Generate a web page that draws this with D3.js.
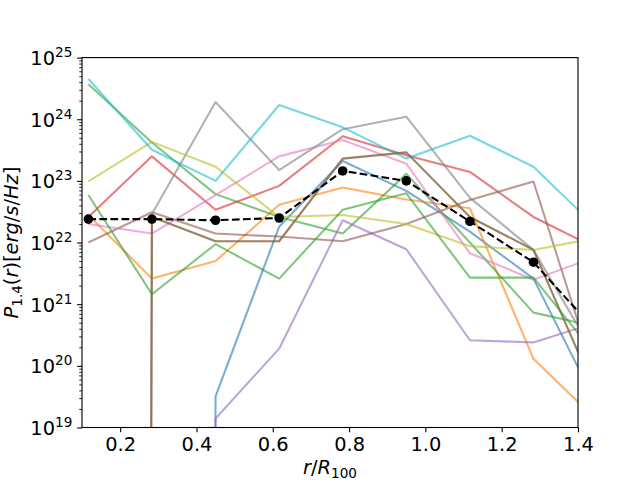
<!DOCTYPE html>
<html>
<head>
<meta charset="utf-8">
<script src="https://cdn.jsdelivr.net/npm/d3@7/dist/d3.min.js"></script>
<style>
  html, body { margin: 0; padding: 0; background: #fff; }
  text { font-family: "DejaVu Sans", sans-serif; }
</style>
</head>
<body>
<svg id="chart" width="640" height="480"></svg>
<script>
// ---- data ----
const radius = [0.1167, 0.2833, 0.45, 0.6167, 0.7833, 0.95, 1.1167, 1.2833, 1.45];
const xTicks = [0.2, 0.4, 0.6, 0.8, 1.0, 1.2, 1.4];
const yTicks = [1e19, 1e20, 1e21, 1e22, 1e23, 1e24, 1e25];

const blueSeries      = [0, 0, 3.2e19, 1.8e22, 2.1e23, 6.9e22, 1.5e22, 2.6e21, 2.3e19];
const orangeSeries    = [2.8e22, 2.6e21, 5.0e21, 4.1e22, 7.8e22, 5.0e22, 3.6e22, 1.3e20, 1.3e19];
const greenSeries     = [3.7e24, 4.2e23, 6.1e22, 2.6e22, 1.4e22, 1.3e23, 1.0e22, 7.3e20, 4.3e20];
const redSeries       = [2.6e22, 2.5e23, 3.4e22, 8.3e22, 5.3e23, 2.6e23, 1.4e23, 2.6e22, 8.0e21];
const purpleSeries    = [0, 0, 1.4e19, 1.9e20, 2.3e22, 7.8e21, 2.6e20, 2.4e20, 5.1e20];
const brownSeries     = [1.0e22, 3.1e22, 1.4e22, 1.25e22, 1.05e22, 2.0e22, 4.9e22, 9.8e22, 5.5e19];
const pinkSeries      = [2.0e22, 1.4e22, 5.9e22, 2.5e23, 4.6e23, 1.9e23, 6.7e21, 2.5e21, 6.0e21];
const graySeries      = [0, 2.9e22, 1.9e24, 1.5e23, 6.9e23, 1.1e24, 5.3e22, 7.6e21, 1.3e20];
const oliveSeries     = [9.8e22, 4.3e23, 1.7e23, 2.6e22, 2.8e22, 2.0e22, 8.7e21, 7.6e21, 1.2e22];
const cyanSeries      = [4.5e24, 3.2e23, 1.0e23, 1.7e24, 7.4e23, 2.3e23, 5.4e23, 1.7e23, 1.7e22];
const darkBrownSeries = [0, 2.6e22, 1.05e22, 1.05e22, 2.3e23, 2.9e23, 2.6e22, 7.6e21, 3.3e19];
const green2Series    = [5.9e22, 1.45e21, 9.4e21, 2.6e21, 3.4e22, 6.3e22, 2.7e21, 2.7e21, 1.4e20];
const meanSeries      = [2.4e22, 2.4e22, 2.3e22, 2.5e22, 1.45e23, 1.0e23, 2.2e22, 4.8e21, 3.5e20];

// ---- layout / styles ----
const PT = 100 / 72;
const L = 82, R = 578, T = 57.6, B = 427.5;
const series = [
  { v: blueSeries,      c: "#1f77b4", o: 0.6 },
  { v: orangeSeries,    c: "#ff7f0e", o: 0.6 },
  { v: greenSeries,     c: "#2ca02c", o: 0.6 },
  { v: redSeries,       c: "#d62728", o: 0.6 },
  { v: purpleSeries,    c: "#9467bd", o: 0.6 },
  { v: brownSeries,     c: "#8c564b", o: 0.6 },
  { v: pinkSeries,      c: "#e377c2", o: 0.6 },
  { v: graySeries,      c: "#7f7f7f", o: 0.6 },
  { v: oliveSeries,     c: "#bcbd22", o: 0.6 },
  { v: cyanSeries,      c: "#17becf", o: 0.6 },
  { v: darkBrownSeries, c: "#8a6a48", o: 0.85 },
  { v: green2Series,    c: "#2ca02c", o: 0.6 }
];

const svg = d3.select("#chart");
const x = d3.scaleLinear().domain([0.1, 1.4]).range([L, R]);
const y = d3.scaleLog().domain([1e19, 1e25]).range([B, T]);

svg.append("defs").append("clipPath").attr("id", "clip")
  .append("rect").attr("x", L).attr("y", T).attr("width", R - L).attr("height", B - T);

const line = d3.line()
  .x(d => x(d[0]))
  .y(d => d[1] > 0 ? y(d[1]) : y(1e-300));

const plot = svg.append("g").attr("clip-path", "url(#clip)");

series.forEach(s => {
  plot.append("path")
    .datum(radius.map((r, i) => [r, s.v[i]]))
    .attr("d", line)
    .attr("fill", "none")
    .attr("stroke", s.c)
    .attr("stroke-opacity", s.o)
    .attr("stroke-width", 1.5 * PT)
    .attr("stroke-linejoin", "round");
});

const meanData = radius.map((r, i) => [r, meanSeries[i]]);
plot.append("path")
  .datum(meanData)
  .attr("d", line)
  .attr("fill", "none")
  .attr("stroke", "#000")
  .attr("stroke-width", 1.5 * PT)
  .attr("stroke-dasharray", `${5.55 * PT},${2.4 * PT}`);
plot.selectAll("circle.m").data(meanData).enter().append("circle")
  .attr("class", "m")
  .attr("cx", d => x(d[0])).attr("cy", d => y(d[1]))
  .attr("r", 4.8).attr("fill", "#000");

// ---- axes ----
const fs = 19.4;
const xAxis = d3.axisBottom(x).tickValues(xTicks).tickSize(3.5 * PT).tickPadding(3.5 * PT)
  .tickFormat(d3.format(".1f"));
const gx = svg.append("g").attr("transform", `translate(0,${B})`).call(xAxis);
gx.select(".domain").remove();
gx.selectAll("line").attr("stroke-width", 0.8 * PT);
gx.selectAll("text").attr("font-size", fs).attr("font-family", "DejaVu Sans").attr("fill", "#000");

// minor y ticks
const minor = [];
for (let e = 19; e < 25; e++) for (let m = 2; m <= 9; m++) minor.push(m * Math.pow(10, e));
const yMinor = d3.axisLeft(y).tickValues(minor).tickSize(2 * PT).tickFormat("");
const gym = svg.append("g").attr("transform", `translate(${L},0)`).call(yMinor);
gym.select(".domain").remove();
gym.selectAll("line").attr("stroke-width", 0.6 * PT);

const yAxis = d3.axisLeft(y).tickValues(yTicks).tickSize(3.5 * PT).tickPadding(3.5 * PT)
  .tickFormat(() => "");
const gy = svg.append("g").attr("transform", `translate(${L},0)`).call(yAxis);
gy.select(".domain").remove();
gy.selectAll("line").attr("stroke-width", 0.8 * PT);
gy.selectAll("text").each(function(d) {
  const t = d3.select(this)
    .attr("font-size", fs).attr("font-family", "DejaVu Sans").attr("fill", "#000")
    .attr("dy", "0.36em");
  t.append("tspan").text("10");
  t.append("tspan").attr("font-size", fs * 0.7).attr("dy", -fs * 0.42)
    .text(String(Math.round(Math.log10(d))));
});

// frame
svg.append("rect").attr("x", L).attr("y", T).attr("width", R - L).attr("height", B - T)
  .attr("fill", "none").attr("stroke", "#000").attr("stroke-width", 0.8 * PT);

// ---- labels ----
const xl = svg.append("text")
  .attr("x", (L + R) / 2).attr("y", 474)
  .attr("text-anchor", "middle").attr("font-size", fs);
xl.append("tspan").attr("font-style", "italic").text("r");
xl.append("tspan").text("/");
xl.append("tspan").attr("font-style", "italic").text("R");
xl.append("tspan").attr("font-size", fs * 0.7).attr("dy", fs * 0.22).text("100");

const yl = svg.append("text")
  .attr("transform", `translate(18,${(T + B) / 2}) rotate(-90)`)
  .attr("text-anchor", "middle").attr("font-size", fs);
yl.append("tspan").attr("font-style", "italic").text("P");
yl.append("tspan").attr("font-size", fs * 0.7).attr("dy", fs * 0.22).text("1.4");
yl.append("tspan").attr("dy", -fs * 0.22).text("(");
yl.append("tspan").attr("font-style", "italic").text("r");
yl.append("tspan").text(")[");
yl.append("tspan").attr("font-style", "italic").text("erg");
yl.append("tspan").text("/");
yl.append("tspan").attr("font-style", "italic").text("s");
yl.append("tspan").text("/");
yl.append("tspan").attr("font-style", "italic").text("Hz");
yl.append("tspan").text("]");
</script>
</body>
</html>
